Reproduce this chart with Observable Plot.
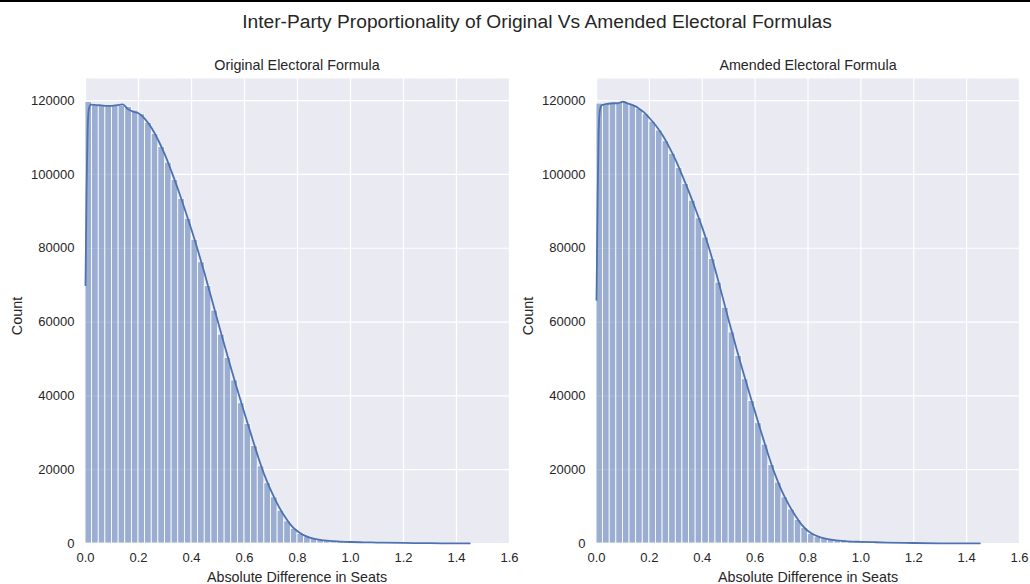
<!DOCTYPE html>
<html>
<head>
<meta charset="utf-8">
<script src="https://cdn.jsdelivr.net/npm/d3@7"></script>
<script src="https://cdn.jsdelivr.net/npm/@observablehq/plot@0.6"></script>
<style>
  html, body { margin: 0; padding: 0; background: #fff; }
  #fig { position: relative; width: 1030px; height: 584px; overflow: hidden; font-family: "Liberation Sans", Arial, sans-serif; color: #262626; }
  #topline { position: absolute; left: 0; top: 0; width: 1030px; height: 2px; background: #000; }
  .t { position: absolute; white-space: nowrap; transform: translateX(-50%); line-height: 1; }
  .panel { position: absolute; top: 58px; }
  .ylab { position: absolute; white-space: nowrap; font-size: 14.4px; line-height: 1; transform: translate(-50%, -50%) rotate(-90deg); }
</style>
</head>
<body>
<div id="fig">
  <div id="topline"></div>
  <div class="t" style="left:537px; top:12px; font-size:19.2px;">Inter-Party Proportionality of Original Vs Amended Electoral Formulas</div>
  <div class="t" style="left:297px; top:58px; font-size:14.3px;">Original Electoral Formula</div>
  <div class="t" style="left:808px; top:58px; font-size:14.3px;">Amended Electoral Formula</div>
  <div id="left" class="panel" style="left:0px;"></div>
  <div id="right" class="panel" style="left:515px;"></div>
  <div class="t" style="left:297px; top:570px; font-size:14.3px;">Absolute Difference in Seats</div>
  <div class="t" style="left:808px; top:570px; font-size:14.3px;">Absolute Difference in Seats</div>
  <div class="ylab" style="left:17px; top:316px;">Count</div>
  <div class="ylab" style="left:528px; top:316px;">Count</div>
</div>
<script>
const binWidth = 0.025;
const xTicks = [0, 0.2, 0.4, 0.6, 0.8, 1.0, 1.2, 1.4, 1.6];
const yTicks = [0, 20000, 40000, 60000, 80000, 100000, 120000];

const originalCounts = [
  119600, 118700, 118600, 118500, 118500, 118600, 118300, 117300, 116300, 114000,
  111000, 107400, 103200, 98500, 93400, 88000, 82300, 76200, 69800, 63100,
  56600, 50300, 44200, 38000, 32400, 26400, 20900, 16300, 12500, 8900,
  6000, 4000, 2600, 1700, 1200, 900, 700, 550, 450, 400,
  350, 300, 280, 250, 220, 200, 180, 150, 130, 110,
  100, 80, 70, 50, 40, 30, 20, 10
];
const amendedCounts = [
  119200, 119100, 119300, 119400, 119400, 118800, 117800, 116300, 114300, 111900,
  109000, 105600, 101700, 97400, 92900, 88100, 82900, 77100, 70700, 63900,
  57200, 50800, 44500, 38600, 32600, 26800, 21300, 16500, 12500, 9200,
  6400, 4200, 2600, 1700, 1300, 1000, 800, 650, 550, 480,
  420, 370, 330, 290, 250, 220, 190, 160, 130, 110,
  90, 70, 55, 40, 30, 20, 15, 10
];

const kdeX = [
  0, 0.004, 0.008, 0.013, 0.02, 0.04, 0.06, 0.08, 0.1, 0.12, 0.14, 0.16, 0.18,
  0.2, 0.225, 0.25, 0.275, 0.3, 0.325, 0.35, 0.375, 0.4, 0.425, 0.45, 0.475,
  0.5, 0.525, 0.55, 0.575, 0.6, 0.625, 0.65, 0.675, 0.7, 0.725, 0.75, 0.775,
  0.8, 0.825, 0.85, 0.875, 0.9, 0.95, 1.0, 1.05, 1.1, 1.2, 1.3, 1.4, 1.45
];
const originalKde = [
  70000, 96000, 112000, 117800, 118900, 118800, 118700, 118600, 118600, 118800, 119000, 117700, 117000,
  116600, 115000, 112500, 109200, 105300, 100700, 95800, 90500, 85000, 79200, 73000, 66500,
  60000, 53600, 47300, 41200, 35300, 29500, 23800, 18600, 14300, 10600, 7500, 5000,
  3300, 2200, 1500, 1100, 850, 550, 400, 320, 250, 150, 80, 30, 10
];
const amendedKde = [
  66000, 92000, 111000, 117500, 118800, 119100, 119300, 119300, 119700, 119200, 118700, 117900, 116800,
  115300, 113200, 110600, 107400, 103800, 99600, 95200, 90500, 85600, 80200, 74000, 67300,
  60500, 54000, 47600, 41500, 35600, 29700, 24000, 18800, 14400, 10800, 7800, 5200,
  3400, 2300, 1600, 1200, 900, 600, 450, 350, 260, 130, 60, 20, 10
];

function panel(counts, kde, marginLeft, marginRight) {
  const bins = counts.map((c, i) => ({x1: i * binWidth, x2: (i + 1) * binWidth, count: c}));
  const line = kdeX.map((x, i) => ({x, y: kde[i]}));
  return Plot.plot({
    width: 515,
    height: 526,
    marginTop: 20,
    marginBottom: 41,
    marginLeft,
    marginRight,
    style: {fontFamily: '"Liberation Sans", Arial, sans-serif', fontSize: "13px", color: "#262626", background: "transparent", overflow: "visible"},
    x: {domain: [0, 1.6], ticks: xTicks, tickFormat: d3.format(".1f"), tickSize: 0, tickPadding: 9, label: null},
    y: {domain: [0, 126000], ticks: yTicks, tickFormat: d => String(d), tickSize: 0, tickPadding: 11, label: null},
    marks: [
      Plot.frame({fill: "#EAEAF2", stroke: "none"}),
      Plot.ruleX(xTicks, {stroke: "#ffffff", strokeWidth: 1.2}),
      Plot.ruleY(yTicks, {stroke: "#ffffff", strokeWidth: 1.2}),
      Plot.rectY(bins, {x1: "x1", x2: "x2", y: "count", fill: "#4C72B0", fillOpacity: 0.5, stroke: "#ffffff", strokeWidth: 0.8}),
      Plot.line(line, {x: "x", y: "y", stroke: "#4C72B0", strokeWidth: 1.8, curve: "monotone-x"})
    ]
  });
}

document.getElementById("left").appendChild(panel(originalCounts, originalKde, 85, 6));
document.getElementById("right").appendChild(panel(amendedCounts, amendedKde, 81, 11));
</script>
</body>
</html>
